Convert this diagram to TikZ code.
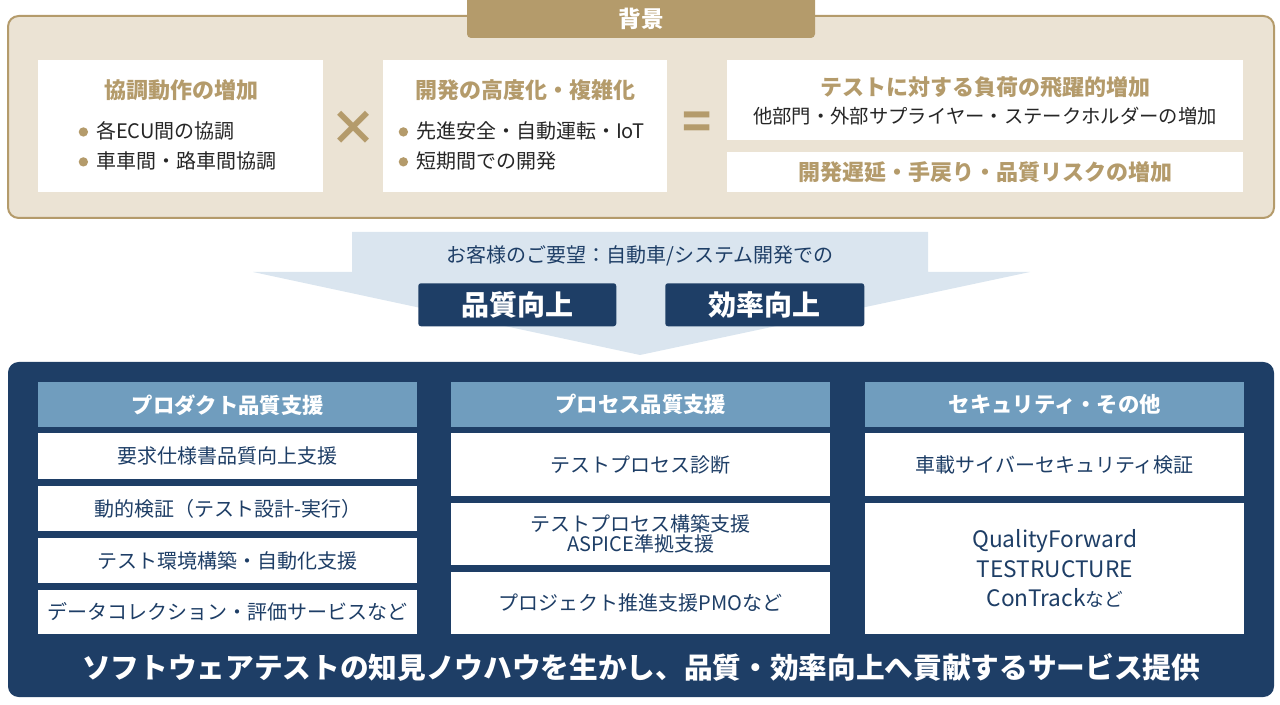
\documentclass[tikz,border=0pt]{standalone}
\usepackage{fontspec}
\setmainfont{Noto Sans CJK JP}
\usetikzlibrary{positioning}
\definecolor{GoldColor}{RGB}{180,155,107}
\definecolor{BeigeColor}{RGB}{235,227,212}
\definecolor{NavyColor}{RGB}{30,62,102}
\definecolor{HeadColor}{RGB}{112,157,190}
\definecolor{ArrowColor}{RGB}{218,229,239}
\tikzstyle{bgbox} = [fill=white, inner sep=0pt, anchor=north west]
\tikzstyle{item} = [fill=white, inner sep=0pt, anchor=north west, text=NavyColor, font=\fontsize{15}{18}\selectfont, align=center]
\tikzstyle{head} = [fill=HeadColor, inner sep=0pt, anchor=north west, text=white, font=\fontsize{16}{19}\selectfont\bfseries]
\tikzstyle{goal} = [fill=NavyColor, rounded corners=2pt, inner sep=0pt, anchor=north west, text=white, font=\fontsize{21}{24}\selectfont\bfseries]
\tikzstyle{btitle} = [text=GoldColor, font=\fontsize{16.5}{19}\selectfont\bfseries]
\tikzstyle{bul} = [text=black!85, font=\fontsize{15}{18}\selectfont, anchor=west]
\newcommand{\dotb}{\textcolor{GoldColor}{\raisebox{0.1em}{\tikz\fill (0,0) circle (3.5pt);}}\hspace{0.4em}}
\begin{document}
\begin{tikzpicture}[x=0.75pt, y=-0.75pt]
            \useasboundingbox (0,0) rectangle (1280,705);
            % Background block
            \draw[fill=BeigeColor, draw=GoldColor, line width=1.5pt, rounded corners=8pt] (8,16) rectangle (1274,218);
            \fill[GoldColor, rounded corners=3pt] (467,-5) rectangle (815,38);
            \node[text=white, font=\fontsize{17}{20}\selectfont\bfseries] (bg) at (641,19) {背景};

            \node[bgbox, minimum width=285*0.75pt, minimum height=132*0.75pt] (coop) at (38,60) {};
            \node[btitle] (cooptitle) at (181,90) {協調動作の増加};
            \node[bul] (coop1) at (74,131) {\dotb 各ECU間の協調};
            \node[bul] (coop2) at (74,161) {\dotb 車車間・路車間協調};

            \node[text=GoldColor, font=\fontsize{36}{36}\selectfont\bfseries] (times) at (353,128) {×};

            \node[bgbox, minimum width=284*0.75pt, minimum height=132*0.75pt] (dev) at (383,60) {};
            \node[btitle] (devtitle) at (525,90) {開発の高度化・複雑化};
            \node[bul] (dev1) at (394,131) {\dotb 先進安全・自動運転・IoT};
            \node[bul] (dev2) at (394,161) {\dotb 短期間での開発};

            \node[text=GoldColor, font=\fontsize{36}{36}\selectfont\bfseries] (equal) at (697,126) {=};

            \node[bgbox, minimum width=516*0.75pt, minimum height=80*0.75pt] (load) at (727,60) {};
            \node[btitle] (loadtitle) at (985,87) {テストに対する負荷の飛躍的増加};
            \node[text=black!85, font=\fontsize{14.5}{17}\selectfont] (loadsub) at (985,116) {他部門・外部サプライヤー・ステークホルダーの増加};
            \node[bgbox, minimum width=516*0.75pt, minimum height=40*0.75pt] (risk) at (727,152) {};
            \node[btitle] (risktitle) at (985,172) {開発遅延・手戻り・品質リスクの増加};

            % Arrow
            \fill[ArrowColor] (352,232) -- (928,232) -- (928,272) -- (1030,272) -- (640,355) -- (253,272) -- (352,272) -- cycle;
            \node[text=NavyColor, font=\fontsize{15}{18}\selectfont] (wish) at (640,256) {お客様のご要望：自動車/システム開発での};
            \node[goal, minimum width=198*0.75pt, minimum height=43*0.75pt] (quality) at (418,283) {品質向上};
            \node[goal, minimum width=199*0.75pt, minimum height=43*0.75pt] (efficiency) at (665,283) {効率向上};

            % Services
            \fill[NavyColor, rounded corners=8pt] (8,362) rectangle (1274,697);
            \node[head, minimum width=379*0.75pt, minimum height=45*0.75pt] (prod) at (38,382) {プロダクト品質支援};
            \node[head, minimum width=379*0.75pt, minimum height=45*0.75pt] (proc) at (451,382) {プロセス品質支援};
            \node[head, minimum width=379*0.75pt, minimum height=45*0.75pt] (sec) at (865,382) {セキュリティ・その他};

            \node[item, minimum width=379*0.75pt, minimum height=46*0.75pt] (prod1) at (38,433) {要求仕様書品質向上支援};
            \node[item, minimum width=379*0.75pt, minimum height=45*0.75pt] (prod2) at (38,486) {動的検証（テスト設計-実行）};
            \node[item, minimum width=379*0.75pt, minimum height=45*0.75pt] (prod3) at (38,538) {テスト環境構築・自動化支援};
            \node[item, minimum width=379*0.75pt, minimum height=44*0.75pt] (prod4) at (38,590) {データコレクション・評価サービスなど};

            \node[item, minimum width=379*0.75pt, minimum height=63*0.75pt] (proc1) at (451,433) {テストプロセス診断};
            \node[item, minimum width=379*0.75pt, minimum height=62*0.75pt] (proc2) at (451,503) {テストプロセス構築支援\\[-3pt]ASPICE準拠支援};
            \node[item, minimum width=379*0.75pt, minimum height=62*0.75pt] (proc3) at (451,572) {プロジェクト推進支援PMOなど};

            \node[item, minimum width=379*0.75pt, minimum height=63*0.75pt] (sec1) at (865,433) {車載サイバーセキュリティ検証};
            \node[item, minimum width=379*0.75pt, minimum height=131*0.75pt, font=\fontsize{17}{22}\selectfont] (sec2) at (865,503) {QualityForward\\TESTRUCTURE\\ConTrack{\fontsize{14}{17}\selectfont など}};

            \node[text=white, font=\fontsize{21.5}{25}\selectfont\bfseries] (footer) at (641,667) {ソフトウェアテストの知見ノウハウを生かし、品質・効率向上へ貢献するサービス提供};
        \end{tikzpicture}
\end{document}
